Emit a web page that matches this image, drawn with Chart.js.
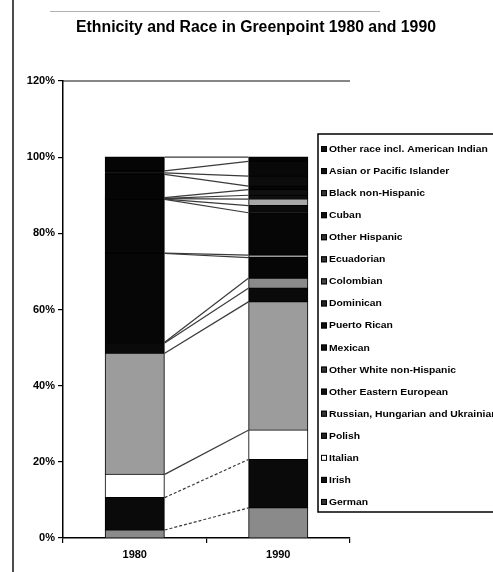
<!DOCTYPE html>
<html><head><meta charset="utf-8">
<script src="https://cdn.jsdelivr.net/npm/chart.js@4"></script>
<style>html,body{margin:0;padding:0;background:#fff}#wrap{width:493px;height:572px;position:relative;overflow:hidden}</style>
</head><body><div id="wrap"><canvas id="c" width="493" height="572"></canvas></div>
<script>
const chartTitle = 'Ethnicity and Race in Greenpoint 1980 and 1990';
const years = ['1980', '1990'];
const seriesNames = ['German', 'Irish', 'Italian', 'Polish', 'Russian, Hungarian and Ukrainian', 'Other Eastern European', 'Other White non-Hispanic', 'Mexican', 'Puerto Rican', 'Dominican', 'Colombian', 'Ecuadorian', 'Other Hispanic', 'Cuban', 'Black non-Hispanic', 'Asian or Pacific Islander', 'Other race incl. American Indian'];
const share1980 = [2.1, 8.5, 6.1, 31.8, 2.7, 0.2, 23.3, 0.1, 14.1, 0.1, 0.1, 0.1, 0.2, 6.1, 0.4, 0.5, 3.6];
const share1990 = [7.9, 12.7, 7.7, 33.7, 3.6, 2.6, 5.4, 0.7, 11.1, 1.9, 1.7, 1.0, 1.5, 0.9, 2.6, 3.9, 1.1];
const yTicks = [0, 20, 40, 60, 80, 100, 120];
const colors1980 = ['#8a8a8a', '#0a0a0a', '#ffffff', '#9c9c9c', '#0a0a0a', '#0a0a0a', '#060606', '#060606', '#060606', '#0a0a0a', '#0a0a0a', '#0a0a0a', '#0a0a0a', '#050505', '#0a0a0a', '#080808', '#050505'];
const colors1990 = ['#8a8a8a', '#0a0a0a', '#ffffff', '#9c9c9c', '#0a0a0a', '#8a8a8a', '#060606', '#9a9a9a', '#060606', '#0a0a0a', '#a8a8a8', '#101010', '#101010', '#050505', '#0c0c0c', '#080808', '#050505'];
const swatchColors = ['#333', '#111', '#fff', '#222', '#333', '#111', '#333', '#111', '#111', '#222', '#444', '#333', '#333', '#111', '#333', '#111', '#111'];

const FONT = "'Liberation Sans', Arial, sans-serif";

const datasets = seriesNames.map((name, i) => ({
  label: name,
  data: [share1980[i], share1990[i]],
  backgroundColor: [colors1980[i], colors1990[i]],
  borderColor: '#000',
  borderWidth: 1,
  inflateAmount: 0.6,
  barPercentage: 0.41,
  categoryPercentage: 1.0
}));

const decor = {
  id: 'decor',
  afterDatasetsDraw(chart) {
    const ctx = chart.ctx;
    chart.data.datasets.forEach((ds, i) => {
      const m = chart.getDatasetMeta(i);
      const a = m.data[0], b = m.data[1];
      ctx.save();
      ctx.strokeStyle = '#3a3a3a';
      ctx.lineWidth = 1.2;
      if (i < 2) ctx.setLineDash([3, 2]);
      ctx.beginPath();
      ctx.moveTo(a.x + a.width / 2 + 0.5, a.y);
      ctx.lineTo(b.x - b.width / 2 - 0.5, b.y);
      ctx.stroke();
      ctx.restore();
    });
  },
  afterDraw(chart) {
    const ctx = chart.ctx;
    const ca = chart.chartArea;
    const ys = chart.scales.y;
    ctx.save();
    // plot top border
    ctx.strokeStyle = '#111'; ctx.lineWidth = 1.2;
    ctx.beginPath(); ctx.moveTo(ca.left, ys.getPixelForValue(120)); ctx.lineTo(ca.right, ys.getPixelForValue(120)); ctx.stroke();
    // page frame
    ctx.strokeStyle = '#111'; ctx.lineWidth = 1.5;
    ctx.beginPath(); ctx.moveTo(13, 0); ctx.lineTo(13, 572); ctx.stroke();
    ctx.strokeStyle = '#b0b0b0'; ctx.lineWidth = 1;
    ctx.beginPath(); ctx.moveTo(50, 11.5); ctx.lineTo(380, 11.5); ctx.stroke();
    // title
    ctx.fillStyle = '#000';
    ctx.font = 'bold 15.8px ' + FONT;
    ctx.textAlign = 'center'; ctx.textBaseline = 'middle';
    ctx.fillText(chartTitle, 256, 28);
    // legend
    ctx.fillStyle = '#fff';
    ctx.fillRect(318, 134, 200, 378);
    ctx.strokeStyle = '#000'; ctx.lineWidth = 1.5;
    ctx.strokeRect(318, 134, 200, 378);
    ctx.font = 'bold 9px ' + FONT;
    ctx.textAlign = 'left';
    const n = chart.data.datasets.length;
    for (let k = 0; k < n; k++) {
      const i = n - 1 - k;
      const y = 149 + k * 22.06;
      ctx.fillStyle = swatchColors[i];
      ctx.fillRect(321, y - 3, 6, 6);
      ctx.strokeStyle = '#000'; ctx.lineWidth = 1;
      ctx.strokeRect(321.5, y - 2.5, 5, 5);
      ctx.fillStyle = '#000';
      ctx.save();
      ctx.translate(329, y + 0.5);
      ctx.scale(1.15, 1);
      ctx.fillText(chart.data.datasets[i].label, 0, 0);
      ctx.restore();
    }
    ctx.restore();
  }
};

new Chart(document.getElementById('c'), {
  type: 'bar',
  data: { labels: years, datasets },
  options: {
    responsive: false,
    animation: false,
    devicePixelRatio: 1,
    layout: { padding: { top: 81, right: 143, left: 0, bottom: 0 } },
    plugins: { legend: { display: false }, title: { display: false }, tooltip: { enabled: false } },
    scales: {
      x: {
        stacked: true,
        grid: { offset: true, drawOnChartArea: false, tickLength: 5, color: '#000', lineWidth: 1.2 },
        border: { color: '#000', width: 1.5 },
        ticks: { font: { family: FONT, weight: 'bold', size: 11 }, color: '#000', padding: 5 },
        afterFit(s) { s.height = 34; }
      },
      y: {
        stacked: true,
        min: 0, max: 120,
        afterBuildTicks(s) { s.ticks = yTicks.map(v => ({ value: v })); },
        ticks: { font: { family: FONT, weight: 'bold', size: 11 }, color: '#000', padding: 3, callback: v => v + '%' },
        grid: { drawOnChartArea: false, tickLength: 5, color: '#000', lineWidth: 1.2 },
        border: { color: '#000', width: 1.5 },
        afterFit(s) { s.width = 63; }
      }
    }
  },
  plugins: [decor]
});
</script>
</body></html>
